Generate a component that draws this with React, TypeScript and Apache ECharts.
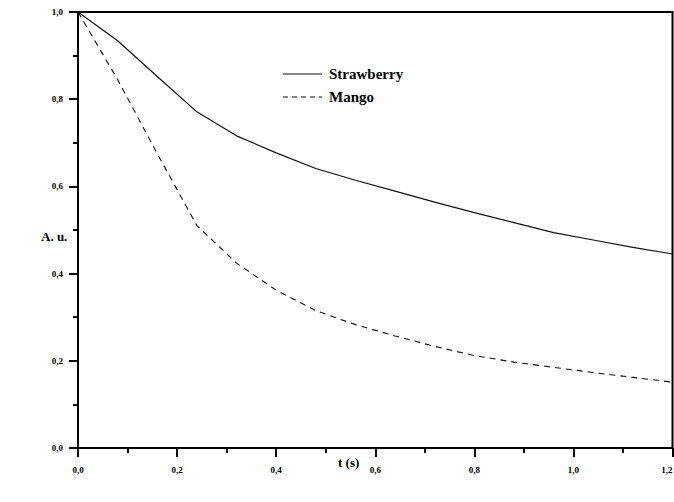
import React, { useEffect, useRef } from "react";
import * as echarts from "echarts";

const tValues = [0, 0.08, 0.16, 0.24, 0.32, 0.4, 0.48, 0.56, 0.64, 0.72, 0.8, 0.88, 0.96, 1.04, 1.12, 1.2];
const strawberry = [1.0, 0.934, 0.852, 0.771, 0.716, 0.677, 0.641, 0.614, 0.589, 0.564, 0.540, 0.517, 0.494, 0.477, 0.460, 0.445];
const mango = [1.0, 0.845, 0.675, 0.51, 0.424, 0.362, 0.315, 0.283, 0.257, 0.233, 0.212, 0.197, 0.185, 0.173, 0.162, 0.151];
const seriesNames = ["Strawberry", "Mango"];

const fmt = (v: number) => v.toFixed(1).replace(".", ",");

export default function App() {
  const ref = useRef<HTMLDivElement>(null);
  useEffect(() => {
    if (!ref.current) return;
    const chart = echarts.init(ref.current, null, { renderer: "svg" });
    const font = "'Liberation Serif', 'Times New Roman', serif";
    const mkAxis = () => ({
      axisLine: { show: true, onZero: false, lineStyle: { color: "#000", width: 2 } },
      axisTick: { show: true, inside: false, length: 9, lineStyle: { color: "#000", width: 2 } },
      minorTick: { show: true, splitNumber: 2, length: 5, lineStyle: { color: "#000", width: 2 } },
      splitLine: { show: false },
    });
    chart.setOption({
      animation: false,
      backgroundColor: "#fff",
      grid: {
        left: 78, right: 1.5, top: 12, bottom: 54,
        show: true, borderColor: "#000", borderWidth: 2,
        containLabel: false, outerBoundsMode: "none",
      },
      xAxis: {
        type: "value",
        min: 0,
        max: 1.2,
        interval: 0.2,
        ...mkAxis(),
        axisLabel: { formatter: fmt, fontFamily: font, fontWeight: "bold", fontSize: 9, color: "#000", margin: 17, showMaxLabel: true, alignMaxLabel: "right" },
      },
      yAxis: {
        type: "value",
        min: 0,
        max: 1,
        interval: 0.2,
        ...mkAxis(),
        axisLabel: { formatter: fmt, fontFamily: font, fontWeight: "bold", fontSize: 9, color: "#000", margin: 15 },
      },
      graphic: [
        { type: "text", left: 41, top: 230, style: { text: "A. u.", font: `bold 13px ${font}`, fill: "#000" } },
        { type: "text", left: 338, top: 456, style: { text: "t (s)", font: `bold 13px ${font}`, fill: "#000" } },
        { type: "line", shape: { x1: 283, y1: 74, x2: 322, y2: 74 }, style: { stroke: "#111", lineWidth: 1.2 } },
        { type: "text", left: 329, top: 66, style: { text: seriesNames[0], font: `bold 15px ${font}`, fill: "#000" } },
        { type: "line", shape: { x1: 283, y1: 97, x2: 322, y2: 97 }, style: { stroke: "#111", lineWidth: 1.1, lineDash: [5, 4] } },
        { type: "text", left: 329, top: 89, style: { text: seriesNames[1], font: `bold 15px ${font}`, fill: "#000" } },
      ],
      series: [
        {
          name: seriesNames[0],
          type: "line",
          symbol: "none",
          data: tValues.map((t, i) => [t, strawberry[i]]),
          lineStyle: { color: "#111", width: 1.2, type: "solid" },
          itemStyle: { color: "#111" },
        },
        {
          name: seriesNames[1],
          type: "line",
          symbol: "none",
          data: tValues.map((t, i) => [t, mango[i]]),
          lineStyle: { color: "#111", width: 1.1, type: [6, 5] },
          itemStyle: { color: "#111" },
        },
      ],
    });
    return () => chart.dispose();
  }, []);
  return <div ref={ref} style={{ position: "fixed", left: 0, top: 0, width: 674, height: 502 }} />;
}
